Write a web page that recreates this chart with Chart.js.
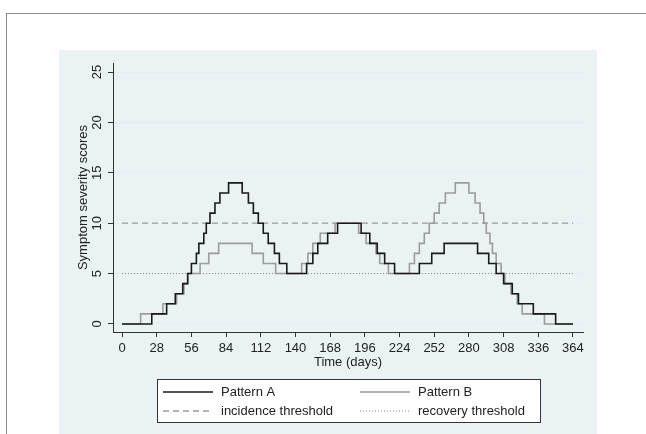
<!DOCTYPE html>
<html>
<head>
<meta charset="utf-8">
<script src="https://cdn.jsdelivr.net/npm/chart.js@4"></script>
<style>
  html, body { margin: 0; padding: 0; background: #fff; }
  body { width: 646px; height: 434px; position: relative; overflow: hidden; }
  #frame { position: absolute; left: 6px; top: 13px; width: 700px; height: 500px;
           border-top: 1px solid #8c8c8c; border-left: 1px solid #8c8c8c; }
  #panel { position: absolute; left: 59px; top: 50px; width: 538px; height: 384px; background: #eaf2f3; }
</style>
</head>
<body>
<div id="frame"></div>
<div id="panel"><canvas id="chart"></canvas></div>
<script>
// ── Data ──────────────────────────────────────────────
const patternADays   = [0,24,36,43,49,53,56,60,62,66,68,71,75,79,86,97,102,106,110,114,118,123,127,133,149,154,158,166,174,193,200,206,212,220,240,250,260,287,296,302,308,315,320,332,350,364];
const patternAScores = [0,1,2,3,4,5,6,7,8,9,10,11,12,13,14,13,12,11,10,9,8,7,6,5,6,7,8,9,10,9,8,7,6,5,6,7,8,7,6,5,4,3,2,1,0,0];
const patternBDays   = [0,15,33,44,50,53,63,70,78,105,114,124,145,150,154,160,172,191,197,205,208,215,232,236,240,244,248,252,256,261,269,280,285,289,292,294,297,299,302,306,309,314,319,323,341,364];
const patternBScores = [0,1,2,3,4,5,6,7,8,7,6,5,6,7,8,9,10,9,8,7,6,5,6,7,8,9,10,11,12,13,14,13,12,11,10,9,8,7,6,5,4,3,2,1,0,0];
const thresholdDays  = [0, 364];
const incidenceLevel = 10;
const recoveryLevel  = 5;
const xTicks = [0,28,56,84,112,140,168,196,224,252,280,308,336,364];
const yTicks = [0,5,10,15,20,25];

const FONT = "'Liberation Sans', Arial, sans-serif";
const pts = (xs, ys) => xs.map((x, i) => ({ x, y: ys[i] }));

// ── Stata-like titles, rotated y labels and boxed legend ─────
const decor = {
  id: 'decor',
  afterDraw(chart) {
    const { ctx, chartArea: a, scales: { y } } = chart;
    ctx.save();
    ctx.fillStyle = '#222';
    ctx.font = '13px ' + FONT;
    ctx.textAlign = 'center';
    ctx.textBaseline = 'middle';
    yTicks.forEach(v => {
      ctx.save();
      ctx.translate(38, y.getPixelForValue(v));
      ctx.rotate(-Math.PI / 2);
      ctx.fillText(String(v), 0, 0);
      ctx.restore();
    });
    ctx.save();
    ctx.translate(24, (a.top + a.bottom) / 2);
    ctx.rotate(-Math.PI / 2);
    ctx.fillText('Symptom severity scores', 0, 0);
    ctx.restore();
    ctx.fillText('Time (days)', (a.left + a.right) / 2, 312);

    // legend box
    const bx = 98, by = 329, bw = 383, bh = 43;
    ctx.fillStyle = '#fff';
    ctx.fillRect(bx, by, bw, bh);
    ctx.strokeStyle = '#333';
    ctx.lineWidth = 1;
    ctx.strokeRect(bx + 0.5, by + 0.5, bw, bh);
    const cols = [104, 301], rows = [342, 361];
    chart.data.datasets.forEach((ds, i) => {
      const cx = cols[i % 2], cy = rows[Math.floor(i / 2)];
      ctx.save();
      ctx.strokeStyle = ds.borderColor;
      ctx.lineWidth = ds.borderWidth;
      ctx.setLineDash(ds.borderDash || []);
      ctx.beginPath();
      ctx.moveTo(cx, cy);
      ctx.lineTo(cx + 50, cy);
      ctx.stroke();
      ctx.restore();
      ctx.fillStyle = '#222';
      ctx.textAlign = 'left';
      ctx.fillText(ds.label, cx + 58, cy);
    });
    ctx.restore();
  }
};

new Chart(document.getElementById('chart'), {
  type: 'line',
  data: {
    datasets: [
      { label: 'Pattern A', data: pts(patternADays, patternAScores), borderColor: '#1a1a1a', borderWidth: 1.6, stepped: true },
      { label: 'Pattern B', data: pts(patternBDays, patternBScores), borderColor: '#9c9c9c', borderWidth: 1.6, stepped: true },
      { label: 'incidence threshold', data: thresholdDays.map(x => ({ x, y: incidenceLevel })), borderColor: '#9a9a9a', borderWidth: 1.3, borderDash: [6, 4] },
      { label: 'recovery threshold', data: thresholdDays.map(x => ({ x, y: recoveryLevel })), borderColor: '#8a8a8a', borderWidth: 1, borderDash: [1, 2] },
    ],
  },
  options: {
    responsive: true,
    maintainAspectRatio: false,
    animation: false,
    layout: { padding: { top: 13, right: 14, left: 0, bottom: 0 } },
    elements: { point: { radius: 0 }, line: { tension: 0 } },
    plugins: { legend: { display: false }, tooltip: { enabled: false } },
    scales: {
      x: {
        type: 'linear', min: -7.3, max: 372.1,
        afterBuildTicks: s => { s.ticks = xTicks.map(value => ({ value })); },
        afterFit: s => { s.height = 102; },
        grid: { drawOnChartArea: false, tickLength: 5, tickColor: '#333' },
        border: { color: '#333' },
        ticks: { color: '#222', font: { family: FONT, size: 13 }, padding: 4, maxRotation: 0, autoSkip: false },
      },
      y: {
        min: -0.8, max: 25.9,
        afterBuildTicks: s => { s.ticks = yTicks.map(value => ({ value })); },
        afterFit: s => { s.width = 54; },
        grid: { color: '#e4eef0', tickLength: 5, tickColor: '#333' },
        border: { color: '#333' },
        ticks: { display: false },
      },
    },
  },
  plugins: [decor],
});
</script>
</body>
</html>
